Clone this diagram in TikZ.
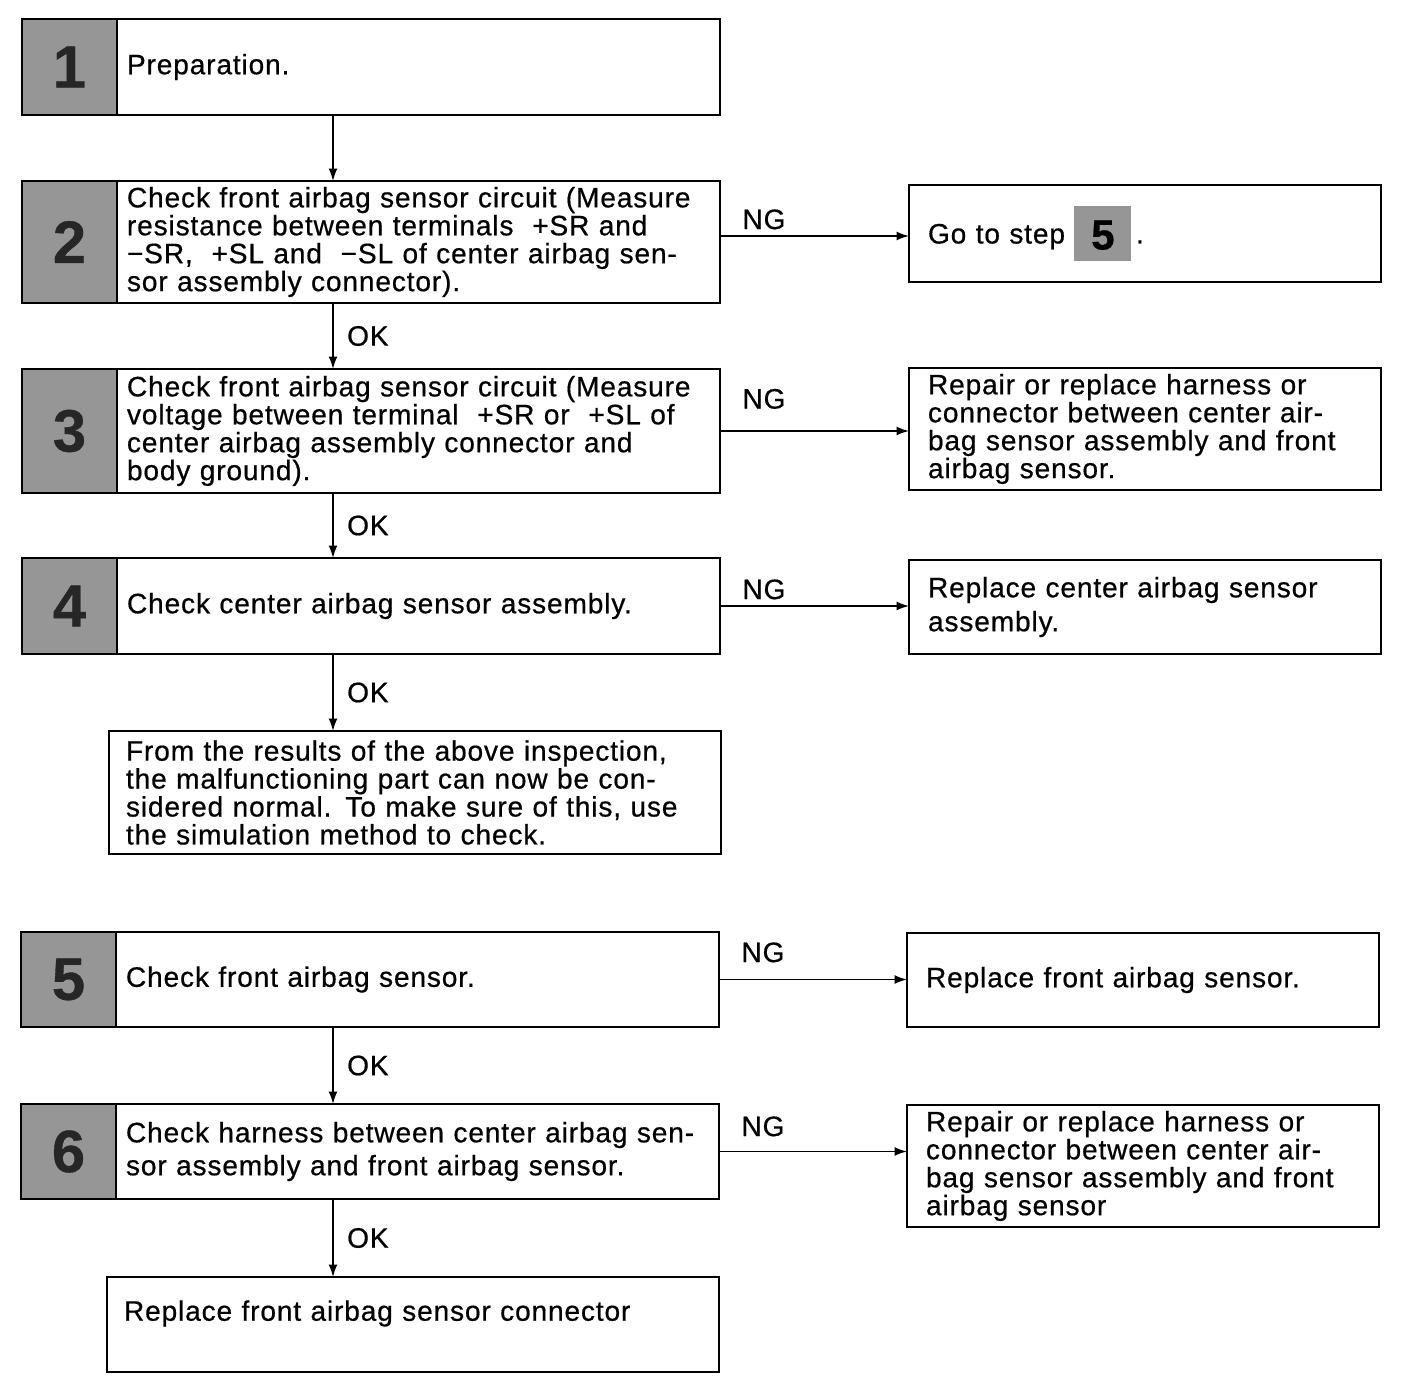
\documentclass[tikz,border=0pt]{standalone}
\usepackage{fontspec}
\setmainfont{Liberation Sans}[LetterSpace=3, FakeBold=0.6]
\usetikzlibrary{arrows.meta, positioning}
\definecolor{numgray}{RGB}{150,150,150}
\newcommand{\stepchip}[1]{\colorbox{numgray}{\makebox[0.93cm]{\rule[-0.254cm]{0pt}{0.908cm}\raisebox{-0.12cm}{\fontsize{24}{24}\selectfont\bfseries #1}}}}

\begin{document}
\begin{tikzpicture}[x=0.02cm, y=-0.02cm,
    every node/.style={font=\fontsize{16}{15.9}\selectfont},
    numbox/.style={draw, line width=1.2pt, fill=numgray, anchor=north west, minimum width=1.9cm,
      inner sep=0pt, outer sep=0pt, text=black!85, font=\fontsize{34}{34}\selectfont\bfseries},
    stepbox/.style={draw, line width=1.2pt, minimum width=12.06cm, text width=11.66cm,
      inner xsep=0.2cm, outer sep=0pt, align=left},
    plainbox/.style={draw, line width=1.2pt, anchor=north west, minimum width=12.24cm,
      text width=11.56cm, inner xsep=0.34cm, outer sep=0pt, align=left},
    sidebox/.style={draw, line width=1.2pt, anchor=north west, minimum width=9.44cm,
      text width=8.68cm, inner xsep=0.38cm, outer sep=0pt, align=left},
    flow/.style={line width=0.9pt, -{Latex[length=7pt,width=5pt]}},
    ok/.style={right, xshift=0.15cm},
    ng/.style={pos=0, anchor=south west, xshift=0.32cm}]
  \useasboundingbox (0,0) rectangle (1408,1398);
  \coordinate (spine) at (333,0);

  % steps 1-4
  \node[numbox, minimum height=1.92cm] (n1) at (22,19) {1};
  \node[stepbox, right=0pt of n1, minimum height=1.92cm] (s1) {Preparation.};
  \node[numbox, minimum height=2.44cm] (n2) at (22,181) {2};
  \node[stepbox, right=0pt of n2, minimum height=2.44cm] (s2) {Check front airbag sensor circuit (Measure\\
    resistance between terminals \ +SR and\\ −SR, \ +SL and \ −SL of center airbag sen-\\
    sor assembly connector).};
  \node[numbox, minimum height=2.48cm] (n3) at (22,369) {3};
  \node[stepbox, right=0pt of n3, minimum height=2.48cm] (s3) {Check front airbag sensor circuit (Measure\\
    voltage between terminal \ +SR or \ +SL of\\ center airbag assembly connector and\\
    body ground).};
  \node[numbox, minimum height=1.92cm] (n4) at (22,558) {4};
  \node[stepbox, right=0pt of n4, minimum height=1.92cm] (s4) {Check center airbag sensor assembly.};
  \node[plainbox, minimum height=2.46cm] (res) at (109,731) {From the results of the above inspection,\\
    the malfunctioning part can now be con-\\ sidered normal. To make sure of this, use\\
    the simulation method to check.};

  % steps 5-6
  \node[numbox, minimum height=1.9cm] (n5) at (21,932) {5};
  \node[stepbox, right=0pt of n5, minimum height=1.9cm] (s5) {Check front airbag sensor.};
  \node[numbox, minimum height=1.9cm] (n6) at (21,1104) {6};
  \node[stepbox, right=0pt of n6, minimum height=1.9cm] (s6) {Check harness between center airbag sen-\\[0.1cm]
    sor assembly and front airbag sensor.};
  \node[plainbox, minimum height=1.9cm] (last) at (107,1277) {Replace front airbag sensor connector\\ \mbox{}};

  % NG side
  \node[sidebox, minimum height=1.94cm] (g2) at (909,185) {Go to step \stepchip{5}\,.};
  \node[sidebox, minimum height=2.44cm] (g3) at (909,368) {Repair or replace harness or\\
    connector between center air-\\ bag sensor assembly and front\\ airbag sensor.};
  \node[sidebox, minimum height=1.88cm] (g4) at (909,560) {Replace center airbag sensor\\[0.12cm] assembly.};
  \node[sidebox, minimum height=1.88cm] (g5) at (907,933) {Replace front airbag sensor.};
  \node[sidebox, minimum height=2.44cm] (g6) at (907,1105) {Repair or replace harness or\\
    connector between center air-\\ bag sensor assembly and front\\ airbag sensor};

  % connectors
  \draw[flow] (s1.south -| spine) -- (s2.north -| spine);
  \draw[flow] (s2.south -| spine) -- node[ok] {OK} (s3.north -| spine);
  \draw[flow] (s3.south -| spine) -- node[ok] {OK} (s4.north -| spine);
  \draw[flow] (s4.south -| spine) -- node[ok] {OK} (res.north -| spine);
  \draw[flow] (s5.south -| spine) -- node[ok] {OK} (s6.north -| spine);
  \draw[flow] (s6.south -| spine) -- node[ok] {OK} (last.north -| spine);

  \draw[flow] ([yshift=0.12cm]s2.east) -- node[ng] {NG} ([yshift=0.12cm]s2.east -| g2.west);
  \draw[flow] (s3.east) -- node[ng, yshift=0.31cm] {NG} (s3.east -| g3.west);
  \draw[flow] (s4.east) -- node[ng] {NG} (s4.east -| g4.west);
  \draw[flow] (s5.east) -- node[ng, yshift=0.21cm] {NG} (s5.east -| g5.west);
  \draw[flow] (s6.east) -- node[ng, yshift=0.17cm] {NG} (s6.east -| g6.west);
\end{tikzpicture}
\end{document}
